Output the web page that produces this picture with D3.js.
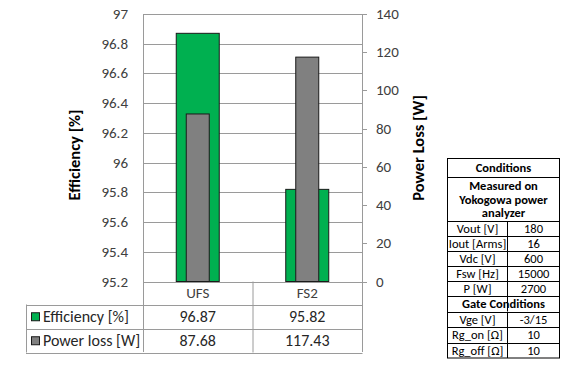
<!DOCTYPE html>
<html>
<head>
<meta charset="utf-8">
<script src="https://cdn.jsdelivr.net/npm/d3@7"></script>
<style>
  body { margin: 0; background: #fff; }
  svg { font-family: Carlito, Calibri, Lato, sans-serif; }
</style>
</head>
<body>
<div id="chart"></div>
<script>
const categories = ['UFS', 'FS2'];
const efficiency = [96.87, 95.82];
const powerLoss = [87.68, 117.43];
const seriesNames = ['Efficiency [%]', 'Power loss [W]'];
const effTicks = [95.2, 95.4, 95.6, 95.8, 96, 96.2, 96.4, 96.6, 96.8, 97];
const lossTicks = [0, 20, 40, 60, 80, 100, 120, 140];
const condTitle = 'Conditions';
const condNote = ['Measured on', 'Yokogowa power', 'analyzer'];
const condRows = [['Vout [V]', '180'], ['Iout [Arms]', '16'], ['Vdc [V]', '600'], ['Fsw [Hz]', '15000'], ['P [W]', '2700']];
const gateTitle = 'Gate Conditions';
const gateRows = [['Vge [V]', '-3/15'], ['Rg_on [\u03A9]', '10'], ['Rg_off [\u03A9]', '10']];

const GREEN = '#00b050';
const GREY = '#808080';
const EDGE = '#1a1a1a';
const GRID = '#9a9a9a';

const svg = d3.select('#chart').append('svg')
  .attr('width', 573)
  .attr('height', 372);

const plot = { left: 143, right: 362, top: 14, bottom: 281.5 };

const x = d3.scaleBand()
  .domain(categories)
  .range([plot.left, plot.right]);

const yEff = d3.scaleLinear()
  .domain([95.2, 97])
  .range([plot.bottom, plot.top]);

const yLoss = d3.scaleLinear()
  .domain([0, 140])
  .range([plot.bottom, plot.top]);

// grid lines
svg.append('g')
  .selectAll('line')
  .data(effTicks)
  .enter()
  .append('line')
  .attr('x1', plot.left)
  .attr('x2', plot.right)
  .attr('y1', (d) => Math.round(yEff(d)) + 0.5)
  .attr('y2', (d) => Math.round(yEff(d)) + 0.5)
  .attr('stroke', GRID)
  .attr('stroke-width', 1);

// plot border left/right
svg.append('line')
  .attr('x1', plot.left + 0.5).attr('x2', plot.left + 0.5)
  .attr('y1', plot.top).attr('y2', 352)
  .attr('stroke', GRID);
svg.append('line')
  .attr('x1', plot.right + 0.5).attr('x2', plot.right + 0.5)
  .attr('y1', plot.top).attr('y2', 352)
  .attr('stroke', GRID);

// left tick labels
svg.append('g')
  .selectAll('text')
  .data(effTicks)
  .enter()
  .append('text')
  .attr('x', 128)
  .attr('y', (d) => yEff(d) + 5)
  .attr('text-anchor', 'end')
  .attr('font-size', 15)
  .attr('fill', '#404040')
  .text((d) => d3.format('')(+d.toFixed(1)));

// right axis
const rAxis = svg.append('g');
rAxis.selectAll('line')
  .data(lossTicks)
  .enter()
  .append('line')
  .attr('x1', plot.right)
  .attr('x2', plot.right + 5)
  .attr('y1', (d) => Math.round(yLoss(d)) + 0.5)
  .attr('y2', (d) => Math.round(yLoss(d)) + 0.5)
  .attr('stroke', GRID);
rAxis.selectAll('text')
  .data(lossTicks)
  .enter()
  .append('text')
  .attr('x', 376)
  .attr('y', (d) => yLoss(d) + 5)
  .attr('font-size', 15)
  .attr('fill', '#404040')
  .text((d) => d);

// axis titles
svg.append('text')
  .attr('transform', 'translate(80,155) rotate(-90)')
  .attr('text-anchor', 'middle')
  .attr('font-size', 16.5)
  .attr('font-weight', 'bold')
  .text('Efficiency [%]');
svg.append('text')
  .attr('transform', 'translate(424,148) rotate(-90)')
  .attr('text-anchor', 'middle')
  .attr('font-size', 16.5)
  .attr('font-weight', 'bold')
  .text('Power Loss [W]');

// bars
const greenW = 43;
const greyW = 23;
svg.append('g')
  .selectAll('rect')
  .data(efficiency)
  .enter()
  .append('rect')
  .attr('x', (d, i) => x(categories[i]) + x.bandwidth() / 2 - greenW / 2)
  .attr('y', (d) => yEff(d))
  .attr('width', greenW)
  .attr('height', (d) => plot.bottom - yEff(d))
  .attr('fill', GREEN)
  .attr('stroke', EDGE)
  .attr('stroke-width', 1);

svg.append('g')
  .selectAll('rect')
  .data(powerLoss)
  .enter()
  .append('rect')
  .attr('x', (d, i) => x(categories[i]) + x.bandwidth() / 2 - greyW / 2)
  .attr('y', (d) => yLoss(d))
  .attr('width', greyW)
  .attr('height', (d) => plot.bottom - yLoss(d))
  .attr('fill', GREY)
  .attr('stroke', EDGE)
  .attr('stroke-width', 1);

// data table
const tableLeft = 26;
const rowY = [plot.bottom, 304.5, 329, 352.5];
const tbl = svg.append('g');
rowY.forEach((yy, i) => {
  tbl.append('line')
    .attr('x1', i === 0 ? plot.left : tableLeft)
    .attr('x2', plot.right + 0.5)
    .attr('y1', Math.round(yy) + 0.5)
    .attr('y2', Math.round(yy) + 0.5)
    .attr('stroke', GRID);
});
tbl.append('line')
  .attr('x1', tableLeft + 0.5).attr('x2', tableLeft + 0.5)
  .attr('y1', rowY[1]).attr('y2', rowY[3])
  .attr('stroke', GRID);
tbl.append('line')
  .attr('x1', x('FS2') + 0.5).attr('x2', x('FS2') + 0.5)
  .attr('y1', plot.bottom).attr('y2', rowY[3])
  .attr('stroke', GRID);

tbl.selectAll('.cat')
  .data(categories)
  .enter()
  .append('text')
  .attr('class', 'cat')
  .attr('x', (d) => x(d) + x.bandwidth() / 2)
  .attr('y', (rowY[0] + rowY[1]) / 2 + 5)
  .attr('text-anchor', 'middle')
  .attr('font-size', 15)
  .attr('fill', '#404040')
  .text((d) => d);

const tableSeries = [efficiency, powerLoss];
const keyColors = [GREEN, GREY];
tableSeries.forEach((vals, r) => {
  const cy = (rowY[r + 1] + rowY[r + 2]) / 2;
  tbl.append('rect')
    .attr('x', 31.5).attr('y', cy - 4)
    .attr('width', 8).attr('height', 8)
    .attr('fill', keyColors[r])
    .attr('stroke', EDGE);
  tbl.append('text')
    .attr('x', 43)
    .attr('y', cy + 5.5)
    .attr('font-size', 16)
    .attr('fill', '#262626')
    .text(seriesNames[r]);
  tbl.selectAll('.v' + r)
    .data(vals)
    .enter()
    .append('text')
    .attr('x', (d, i) => x(categories[i]) + x.bandwidth() / 2)
    .attr('y', cy + 5.5)
    .attr('text-anchor', 'middle')
    .attr('font-size', 16)
    .attr('fill', '#262626')
    .text((d) => d3.format('.2f')(d));
});

// conditions table
const cL = 447.5, cR = 559.5, cMid = 507.5;
const ct = svg.append('g').attr('font-size', 12.5).attr('fill', '#000');
const lines = [158.5, 176.5, 220.5, 236, 251, 266, 281, 296, 311.5, 327, 342.5, 358];
ct.append('rect')
  .attr('x', cL).attr('y', lines[0])
  .attr('width', cR - cL).attr('height', lines[lines.length - 1] - lines[0])
  .attr('fill', 'none').attr('stroke', '#000');
lines.slice(1, -1).forEach((yy) => {
  ct.append('line')
    .attr('x1', cL).attr('x2', cR)
    .attr('y1', Math.round(yy) + 0.5).attr('y2', Math.round(yy) + 0.5)
    .attr('stroke', '#000');
});
[[3, 8], [9, 11]].forEach(([a, b]) => {
  ct.append('line')
    .attr('x1', cMid).attr('x2', cMid)
    .attr('y1', lines[a - 1] + 1).attr('y2', lines[b])
    .attr('stroke', '#000');
});
ct.append('text')
  .attr('x', (cL + cR) / 2).attr('y', 172)
  .attr('text-anchor', 'middle').attr('font-weight', 'bold')
  .text(condTitle);
condNote.forEach((t, i) => {
  ct.append('text')
    .attr('x', (cL + cR) / 2).attr('y', 190 + i * 13.5)
    .attr('text-anchor', 'middle').attr('font-weight', 'bold')
    .text(t);
});
ct.append('text')
  .attr('x', (cL + cR) / 2).attr('y', lines[8] - 3.5)
  .attr('text-anchor', 'middle').attr('font-weight', 'bold')
  .text(gateTitle);
const drawRows = (rows, start) => {
  rows.forEach((r, i) => {
    const base = lines[start + i + 1] - 3.5;
    ct.append('text')
      .attr('x', (cL + cMid) / 2).attr('y', base)
      .attr('text-anchor', 'middle')
      .text(r[0]);
    ct.append('text')
      .attr('x', (cMid + cR) / 2).attr('y', base)
      .attr('text-anchor', 'middle')
      .text(r[1]);
  });
};
drawRows(condRows, 2);
drawRows(gateRows, 8);
</script>
</body>
</html>
